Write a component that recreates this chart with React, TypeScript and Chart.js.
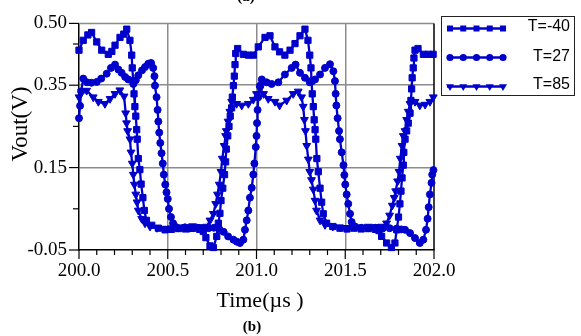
import React, { useEffect, useRef } from 'react';
import { Chart, registerables } from 'chart.js';

Chart.register(...registerables);

const seriesLabels = ['T=-40', 'T=27', 'T=85'];
const seriesColor = '#0000CC';

// T=-40 (squares)
const timeM40 = [
  200.000, 200.024, 200.050, 200.071, 200.100, 200.128, 200.165, 200.185, 200.203, 200.231,
  200.252, 200.269, 200.287, 200.297, 200.300, 200.306, 200.310, 200.315, 200.320, 200.325,
  200.328, 200.334, 200.343, 200.350, 200.360, 200.368, 200.380, 200.410, 200.447, 200.485,
  200.520, 200.560, 200.600, 200.640, 200.680, 200.700, 200.715, 200.738, 200.757, 200.776,
  200.785, 200.794, 200.800, 200.810, 200.820, 200.826, 200.830, 200.838, 200.845, 200.852,
  200.860, 200.864, 200.870, 200.875, 200.879, 200.883, 200.894, 200.926, 200.954, 200.982,
  201.010, 201.048, 201.076, 201.104, 201.130, 201.160, 201.189, 201.217, 201.245, 201.273,
  201.290, 201.300, 201.307, 201.310, 201.314, 201.320, 201.325, 201.330, 201.334, 201.340,
  201.348, 201.358, 201.367, 201.376, 201.395, 201.430, 201.470, 201.510, 201.550, 201.590,
  201.630, 201.670, 201.690, 201.705, 201.733, 201.760, 201.780, 201.790, 201.800, 201.808,
  201.814, 201.820, 201.827, 201.830, 201.837, 201.846, 201.855, 201.865, 201.870, 201.874,
  201.877, 201.883, 201.887, 201.893, 201.910, 201.940, 201.968, 201.995,
];
const voutM40 = [
  0.435, 0.459, 0.472, 0.478, 0.455, 0.435, 0.425, 0.432, 0.447, 0.466,
  0.474, 0.486, 0.459, 0.423, 0.392, 0.360, 0.329, 0.298, 0.275, 0.242,
  0.219, 0.172, 0.145, 0.110, 0.077, 0.046, 0.022, 0.010, 0.003, -0.001,
  0.000, 0.002, 0.001, 0.003, 0.000, -0.005, -0.020, -0.040, -0.044, -0.017,
  0.015, 0.039, 0.070, 0.100, 0.133, 0.164, 0.195, 0.227, 0.250, 0.275,
  0.295, 0.321, 0.349, 0.372, 0.400, 0.427, 0.439, 0.425, 0.423, 0.423,
  0.443, 0.466, 0.470, 0.443, 0.431, 0.423, 0.435, 0.451, 0.470, 0.486,
  0.459, 0.423, 0.392, 0.360, 0.329, 0.298, 0.266, 0.242, 0.219, 0.172,
  0.140, 0.100, 0.066, 0.038, 0.015, 0.007, 0.003, 0.001, 0.003, 0.001,
  0.002, 0.000, -0.003, -0.017, -0.033, -0.044, -0.033, -0.001, 0.030, 0.062,
  0.093, 0.125, 0.156, 0.187, 0.219, 0.239, 0.258, 0.282, 0.313, 0.341,
  0.368, 0.392, 0.416, 0.435, 0.439, 0.425, 0.425, 0.425,
];

// T=27 (circles)
const time27 = [
  200.000, 200.006, 200.012, 200.024, 200.045, 200.070, 200.100, 200.125, 200.156, 200.180,
  200.203, 200.222, 200.240, 200.260, 200.278, 200.306, 200.320, 200.334, 200.355, 200.372,
  200.390, 200.406, 200.418, 200.425, 200.428, 200.437, 200.443, 200.447, 200.452, 200.458,
  200.465, 200.472, 200.478, 200.486, 200.493, 200.500, 200.507, 200.518, 200.530, 200.545,
  200.560, 200.597, 200.620, 200.644, 200.670, 200.700, 200.730, 200.760, 200.790, 200.815,
  200.840, 200.870, 200.890, 200.907, 200.926, 200.935, 200.945, 200.954, 200.963, 200.973,
  200.982, 200.988, 200.996, 201.000, 201.003, 201.006, 201.010, 201.020, 201.030, 201.057,
  201.085, 201.123, 201.160, 201.198, 201.220, 201.245, 201.273, 201.300, 201.330, 201.358,
  201.386, 201.414, 201.433, 201.442, 201.446, 201.450, 201.457, 201.465, 201.470, 201.480,
  201.490, 201.495, 201.500, 201.508, 201.517, 201.527, 201.536, 201.555, 201.590, 201.630,
  201.670, 201.710, 201.750, 201.790, 201.815, 201.837, 201.865, 201.893, 201.920, 201.940,
  201.955, 201.964, 201.970, 201.977, 201.986, 201.990, 201.997,
];
const vout27 = [
  0.270, 0.300, 0.335, 0.366, 0.357, 0.356, 0.358, 0.366, 0.378, 0.392,
  0.400, 0.388, 0.380, 0.370, 0.364, 0.353, 0.362, 0.374, 0.386, 0.394,
  0.402, 0.404, 0.392, 0.372, 0.349, 0.321, 0.290, 0.262, 0.235, 0.210,
  0.185, 0.160, 0.133, 0.109, 0.090, 0.074, 0.050, 0.030, 0.015, 0.006,
  0.003, 0.005, 0.002, 0.003, 0.004, 0.002, 0.003, 0.004, 0.001, -0.006,
  -0.017, -0.025, -0.030, -0.033, -0.025, -0.001, 0.022, 0.046, 0.077, 0.101,
  0.133, 0.160, 0.200, 0.227, 0.258, 0.290, 0.321, 0.349, 0.364, 0.357,
  0.353, 0.357, 0.376, 0.392, 0.400, 0.380, 0.368, 0.357, 0.364, 0.376,
  0.392, 0.401, 0.384, 0.360, 0.329, 0.301, 0.270, 0.239, 0.219, 0.187,
  0.156, 0.132, 0.109, 0.085, 0.062, 0.038, 0.018, 0.007, 0.004, 0.003,
  0.004, 0.002, 0.003, 0.002, 0.000, -0.001, -0.009, -0.021, -0.033, -0.025,
  -0.001, 0.026, 0.054, 0.085, 0.113, 0.133, 0.144,
];

// T=85 (down triangles)
const time85 = [
  200.000, 200.015, 200.043, 200.080, 200.109, 200.146, 200.175, 200.203, 200.230, 200.254,
  200.263, 200.268, 200.274, 200.287, 200.293, 200.300, 200.306, 200.312, 200.320, 200.327,
  200.334, 200.353, 200.372, 200.400, 200.440, 200.480, 200.520, 200.560, 200.600, 200.640,
  200.680, 200.720, 200.738, 200.757, 200.770, 200.780, 200.790, 200.800, 200.807, 200.818,
  200.826, 200.830, 200.840, 200.850, 200.860, 200.888, 200.917, 200.954, 200.982, 201.000,
  201.020, 201.040, 201.066, 201.104, 201.130, 201.170, 201.207, 201.235, 201.254, 201.263,
  201.270, 201.276, 201.283, 201.292, 201.300, 201.310, 201.320, 201.330, 201.338, 201.358,
  201.386, 201.430, 201.470, 201.510, 201.550, 201.590, 201.630, 201.670, 201.705, 201.733,
  201.750, 201.765, 201.776, 201.784, 201.795, 201.803, 201.810, 201.820, 201.827, 201.837,
  201.846, 201.855, 201.865, 201.893, 201.920, 201.950, 201.977, 201.996,
];
const vout85 = [
  0.321, 0.335, 0.337, 0.321, 0.310, 0.305, 0.317, 0.329, 0.338, 0.323,
  0.282, 0.258, 0.239, 0.219, 0.187, 0.160, 0.133, 0.109, 0.085, 0.066,
  0.046, 0.026, 0.015, 0.007, 0.004, 0.002, 0.003, 0.005, 0.006, 0.008,
  0.006, 0.007, 0.022, 0.038, 0.062, 0.085, 0.109, 0.140, 0.172, 0.203,
  0.227, 0.239, 0.262, 0.286, 0.310, 0.305, 0.301, 0.305, 0.315, 0.329,
  0.341, 0.329, 0.317, 0.310, 0.301, 0.313, 0.329, 0.335, 0.321, 0.298,
  0.266, 0.239, 0.203, 0.170, 0.140, 0.120, 0.097, 0.070, 0.046, 0.022,
  0.011, 0.007, 0.005, 0.004, 0.006, 0.005, 0.007, 0.006, 0.007, 0.015,
  0.034, 0.058, 0.077, 0.093, 0.117, 0.140, 0.172, 0.203, 0.227, 0.239,
  0.266, 0.286, 0.305, 0.310, 0.301, 0.303, 0.310, 0.321,
];

const xTickValues = [
  200.0, 200.1, 200.2, 200.3, 200.4, 200.5, 200.6, 200.7, 200.8, 200.9, 201.0,
  201.1, 201.2, 201.3, 201.4, 201.5, 201.6, 201.7, 201.8, 201.9, 202.0,
];
const xTickLabels = ['200.0', '200.5', '201.0', '201.5', '202.0'];
const xGridValues = [200.5, 201.0, 201.5];

const yTickValues = [-0.05, 0.05, 0.15, 0.25, 0.35, 0.45, 0.5];
const yTickLabels = ['0.50', '0.35', '0.15', '-0.05'];
const yGridValues = [0.15, 0.35];

const xTitle = 'Time(\u00b5s )';
const yTitle = 'Vout(V)';
const panelLabel = '(b)';
const topPanelLabel = '(a)';

const GRID = 'rgb(140,140,140)';

function toPoints(t: number[], v: number[]) {
  return t.map((x, i) => ({ x, y: v[i] }));
}

function drawMarker(ctx: CanvasRenderingContext2D, kind: string, x: number, y: number) {
  ctx.beginPath();
  if (kind === 'rect') {
    ctx.rect(x - 3, y - 3, 6, 6);
  } else if (kind === 'circle') {
    ctx.arc(x, y, 3.6, 0, Math.PI * 2);
  } else {
    const r = 4.6;
    ctx.moveTo(x, y + r);
    ctx.lineTo(x - r * 0.866, y - r / 2);
    ctx.lineTo(x + r * 0.866, y - r / 2);
    ctx.closePath();
  }
  ctx.fill();
}

const decorPlugin = {
  id: 'decor',
  beforeDatasetsDraw(chart: any) {
    const { ctx, chartArea } = chart;
    const xs = chart.scales.x;
    const ys = chart.scales.y;
    ctx.save();
    ctx.strokeStyle = GRID;
    ctx.lineWidth = 1.5;
    ctx.beginPath();
    ctx.moveTo(chartArea.left, chartArea.top);
    ctx.lineTo(chartArea.right, chartArea.top);
    ctx.stroke();
    ctx.strokeStyle = '#000';
    ctx.beginPath();
    ctx.moveTo(chartArea.right, chartArea.top);
    ctx.lineTo(chartArea.right, chartArea.bottom);
    ctx.stroke();
    ctx.lineWidth = 1.2;
    xTickValues.forEach((v) => {
      const px = xs.getPixelForValue(v);
      const major = xTickLabels.includes(v.toFixed(1));
      ctx.beginPath();
      ctx.moveTo(px, chartArea.bottom);
      ctx.lineTo(px, chartArea.bottom + (major ? 9 : 5));
      ctx.stroke();
    });
    yTickValues.forEach((v) => {
      const py = ys.getPixelForValue(v);
      const major = yTickLabels.includes(v.toFixed(2));
      ctx.beginPath();
      ctx.moveTo(chartArea.left, py);
      ctx.lineTo(chartArea.left - (major ? 10 : 6), py);
      ctx.stroke();
    });
    ctx.restore();
  },
  afterDraw(chart: any) {
    const { ctx } = chart;
    ctx.save();
    ctx.fillStyle = '#000';
    ctx.textAlign = 'center';
    ctx.textBaseline = 'middle';
    ctx.font = '22px "Liberation Serif", serif';
    ctx.fillText(xTitle, 260, 301);
    ctx.save();
    ctx.translate(21, 124);
    ctx.rotate(-Math.PI / 2);
    ctx.font = '23px "Liberation Serif", serif';
    ctx.fillText(yTitle, 0, 0);
    ctx.restore();
    ctx.font = 'bold 15px "Liberation Serif", serif';
    ctx.fillText(panelLabel, 252, 327);
    ctx.fillText(topPanelLabel, 246, -3);

    ctx.strokeStyle = '#222';
    ctx.lineWidth = 1;
    ctx.strokeRect(441.5, 16.5, 133, 79);
    const kinds = ['rect', 'circle', 'triangle'];
    const rowsY = [28.5, 57.5, 86.5];
    const textY = [27, 56.5, 85];
    kinds.forEach((k, i) => {
      const y = rowsY[i];
      ctx.strokeStyle = seriesColor;
      ctx.fillStyle = seriesColor;
      ctx.lineWidth = 2.5;
      ctx.beginPath();
      ctx.moveTo(447, y);
      ctx.lineTo(505, y);
      ctx.stroke();
      for (let j = 0; j < 5; j++) {
        drawMarker(ctx, k, 450 + j * 13.25, y);
      }
      ctx.fillStyle = '#000';
      ctx.font = '16px "Liberation Sans", Arial, sans-serif';
      ctx.textAlign = 'right';
      ctx.textBaseline = 'middle';
      ctx.fillText(seriesLabels[i], 570, textY[i]);
    });
    ctx.restore();
  },
};

export default function App() {
  const canvasRef = useRef<HTMLCanvasElement | null>(null);

  useEffect(() => {
    const canvas = canvasRef.current;
    if (!canvas) return;
    const common = {
      borderColor: seriesColor,
      backgroundColor: seriesColor,
      pointBackgroundColor: seriesColor,
      pointBorderColor: seriesColor,
      borderWidth: 2.3,
      pointBorderWidth: 1,
      tension: 0,
      clip: 8,
    };
    const chart = new Chart(canvas, {
      type: 'line',
      data: {
        datasets: [
          {
            ...common,
            label: seriesLabels[0],
            data: toPoints(timeM40, voutM40),
            pointStyle: 'rect',
            pointRadius: 4.4,
          },
          {
            ...common,
            label: seriesLabels[1],
            data: toPoints(time27, vout27),
            pointStyle: 'circle',
            pointRadius: 3.5,
          },
          {
            ...common,
            label: seriesLabels[2],
            data: toPoints(time85, vout85),
            pointStyle: 'triangle',
            pointRotation: 180,
            pointRadius: 4.5,
          },
        ],
      },
      options: {
        responsive: false,
        animation: false,
        events: [],
        layout: { padding: { left: 0, right: 147, top: 17, bottom: 0 } },
        plugins: { legend: { display: false }, tooltip: { enabled: false }, title: { display: false } },
        scales: {
          x: {
            type: 'linear',
            min: 200,
            max: 202,
            afterBuildTicks: (scale: any) => {
              scale.ticks = xTickValues.map((value) => ({ value }));
            },
            afterFit: (scale: any) => {
              scale.height = 86;
            },
            ticks: {
              autoSkip: false,
              maxRotation: 0,
              padding: 10,
              color: '#000',
              font: { family: '"Liberation Serif", serif', size: 19 },
              callback: (v: any) => {
                const s = Number(v).toFixed(1);
                return xTickLabels.includes(s) ? s : '';
              },
            },
            grid: {
              drawTicks: false,
              lineWidth: 1.5,
              color: (c: any) => {
                const v = c.tick ? c.tick.value : NaN;
                return xGridValues.some((g) => Math.abs(g - v) < 1e-6) ? GRID : 'rgba(0,0,0,0)';
              },
            },
            border: { display: true, color: '#000', width: 1.5 },
          },
          y: {
            type: 'linear',
            min: -0.05,
            max: 0.5,
            afterBuildTicks: (scale: any) => {
              scale.ticks = yTickValues.map((value) => ({ value }));
            },
            afterFit: (scale: any) => {
              scale.width = 79;
            },
            ticks: {
              autoSkip: false,
              padding: 12,
              color: '#000',
              font: { family: '"Liberation Serif", serif', size: 19 },
              callback: (v: any) => {
                const s = Number(v).toFixed(2);
                return yTickLabels.includes(s) ? s : '';
              },
            },
            grid: {
              drawTicks: false,
              lineWidth: 1.5,
              color: (c: any) => {
                const v = c.tick ? c.tick.value : NaN;
                return yGridValues.some((g) => Math.abs(g - v) < 1e-6) ? GRID : 'rgba(0,0,0,0)';
              },
            },
            border: { display: true, color: '#000', width: 1.5 },
          },
        },
      },
      plugins: [decorPlugin],
    });
    return () => chart.destroy();
  }, []);

  return (
    <div style={{ position: 'absolute', left: 0, top: 0, width: 581, height: 336, background: '#fff' }}>
      <canvas ref={canvasRef} width={581} height={336} style={{ display: 'block' }} />
    </div>
  );
}
